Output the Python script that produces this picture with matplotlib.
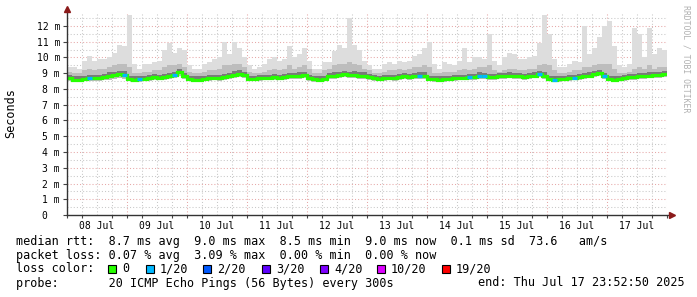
import matplotlib
matplotlib.use("Agg")
import matplotlib.pyplot as plt
from matplotlib.patches import Rectangle
import numpy as np

# ---- data (2-hour bins, 08 Jul 00:00 .. 18 Jul 00:00) ----
day_labels = ["08 Jul", "09 Jul", "10 Jul", "11 Jul", "12 Jul",
              "13 Jul", "14 Jul", "15 Jul", "16 Jul", "17 Jul"]

median_ms = [
    8.70, 8.60, 8.60, 8.62, 8.70, 8.72, 8.68, 8.78, 8.85, 8.88, 8.95, 8.92,
    8.62, 8.60, 8.62, 8.65, 8.70, 8.75, 8.72, 8.78, 8.82, 8.90, 9.05, 8.80,
    8.62, 8.60, 8.60, 8.63, 8.68, 8.72, 8.70, 8.75, 8.82, 8.92, 8.98, 8.88,
    8.62, 8.65, 8.68, 8.70, 8.72, 8.75, 8.72, 8.78, 8.80, 8.82, 8.85, 8.90,
    8.68, 8.62, 8.60, 8.65, 8.80, 8.85, 8.90, 8.95, 8.88, 8.92, 8.85, 8.85,
    8.78, 8.70, 8.65, 8.68, 8.72, 8.70, 8.75, 8.80, 8.78, 8.82, 8.85, 8.85,
    8.65, 8.62, 8.60, 8.62, 8.65, 8.68, 8.70, 8.72, 8.75, 8.78, 8.85, 8.80,
    8.75, 8.78, 8.80, 8.82, 8.85, 8.82, 8.80, 8.78, 8.82, 8.85, 8.95, 8.85,
    8.62, 8.60, 8.62, 8.65, 8.70, 8.72, 8.75, 8.80, 8.85, 8.95, 9.00, 8.80,
    8.62, 8.60, 8.65, 8.70, 8.75, 8.78, 8.80, 8.82, 8.85, 8.88, 8.90, 8.95,
]

max_ms = [
    9.4, 9.4, 9.3, 9.8, 10.1, 9.8, 9.9, 9.9, 10.0, 10.3, 10.8, 10.7,
    12.7, 9.6, 9.3, 9.6, 9.6, 9.7, 9.8, 10.5, 10.9, 10.3, 10.6, 10.5,
    9.5, 9.3, 9.3, 9.6, 9.7, 9.9, 10.0, 11.0, 10.2, 11.0, 10.6, 10.0,
    9.5, 9.3, 9.4, 9.6, 9.9, 10.0, 9.8, 9.9, 10.7, 10.0, 10.2, 10.6,
    9.8, 9.3, 9.3, 9.7, 9.7, 10.4, 10.8, 10.6, 12.5, 10.8, 10.5, 9.8,
    9.5, 9.3, 9.3, 9.6, 9.7, 9.6, 9.8, 9.7, 9.8, 10.1, 10.2, 10.6,
    11.0, 9.6, 9.3, 9.7, 9.6, 9.5, 9.8, 10.6, 9.7, 10.0, 10.0, 9.9,
    11.5, 9.8, 9.5, 10.0, 10.3, 10.2, 9.9, 9.9, 10.0, 10.1, 10.9, 12.7,
    11.5, 9.9, 9.4, 9.4, 9.6, 9.8, 9.7, 12.0, 10.2, 10.6, 11.3, 12.0,
    12.3, 10.7, 9.5, 9.4, 9.6, 11.9, 11.5, 10.0, 11.9, 10.2, 10.6, 10.5,
]

upper_ms = [
    9.1, 9.0, 9.0, 9.2, 9.3, 9.2, 9.3, 9.3, 9.4, 9.5, 9.6, 9.6,
    9.4, 9.0, 9.0, 9.1, 9.1, 9.2, 9.2, 9.4, 9.5, 9.5, 9.6, 9.4,
    9.1, 9.0, 9.0, 9.1, 9.2, 9.2, 9.3, 9.5, 9.5, 9.6, 9.6, 9.4,
    9.1, 9.0, 9.0, 9.1, 9.2, 9.3, 9.2, 9.3, 9.5, 9.3, 9.4, 9.5,
    9.3, 9.0, 9.0, 9.2, 9.3, 9.5, 9.6, 9.6, 9.7, 9.6, 9.5, 9.3,
    9.2, 9.0, 9.0, 9.1, 9.2, 9.2, 9.3, 9.2, 9.3, 9.4, 9.4, 9.5,
    9.4, 9.0, 9.0, 9.1, 9.1, 9.1, 9.2, 9.3, 9.2, 9.3, 9.4, 9.4,
    9.5, 9.2, 9.1, 9.2, 9.3, 9.3, 9.2, 9.2, 9.3, 9.3, 9.5, 9.6,
    9.5, 9.2, 9.0, 9.0, 9.1, 9.2, 9.2, 9.4, 9.4, 9.5, 9.6, 9.6,
    9.6, 9.3, 9.0, 9.0, 9.1, 9.3, 9.4, 9.3, 9.5, 9.3, 9.4, 9.4,
]

min_ms = [
    8.50, 8.45, 8.45, 8.48, 8.50, 8.52, 8.50, 8.55, 8.60, 8.62, 8.68, 8.65,
    8.48, 8.45, 8.47, 8.50, 8.52, 8.55, 8.55, 8.58, 8.62, 8.68, 8.80, 8.62,
    8.48, 8.45, 8.45, 8.48, 8.50, 8.55, 8.52, 8.55, 8.62, 8.70, 8.75, 8.68,
    8.48, 8.50, 8.52, 8.55, 8.55, 8.58, 8.55, 8.60, 8.62, 8.62, 8.65, 8.70,
    8.50, 8.47, 8.45, 8.50, 8.62, 8.65, 8.70, 8.75, 8.68, 8.72, 8.65, 8.65,
    8.60, 8.52, 8.50, 8.52, 8.55, 8.52, 8.58, 8.62, 8.60, 8.62, 8.65, 8.65,
    8.50, 8.47, 8.45, 8.47, 8.50, 8.52, 8.55, 8.55, 8.58, 8.60, 8.65, 8.62,
    8.58, 8.60, 8.62, 8.65, 8.68, 8.65, 8.62, 8.60, 8.65, 8.68, 8.75, 8.65,
    8.48, 8.45, 8.47, 8.50, 8.52, 8.55, 8.58, 8.62, 8.68, 8.75, 8.80, 8.62,
    8.48, 8.45, 8.50, 8.52, 8.58, 8.60, 8.62, 8.65, 8.68, 8.70, 8.72, 8.75,
]

loss_of_20 = [
    0, 0, 0, 0, 1, 0, 0, 0, 0, 0, 0, 1,
    0, 0, 1, 0, 0, 0, 0, 0, 0, 1, 0, 0,
    0, 0, 0, 0, 0, 0, 0, 0, 0, 0, 0, 0,
    0, 0, 0, 0, 0, 0, 0, 0, 0, 0, 0, 0,
    0, 0, 0, 0, 0, 0, 0, 0, 0, 0, 0, 0,
    0, 0, 0, 0, 0, 0, 0, 0, 0, 0, 1, 0,
    0, 0, 0, 0, 0, 0, 0, 0, 1, 0, 1, 1,
    0, 0, 0, 0, 0, 0, 0, 0, 0, 0, 1, 0,
    0, 1, 0, 0, 0, 1, 0, 0, 0, 0, 0, 1,
    0, 0, 0, 0, 0, 0, 0, 0, 0, 0, 0, 0,
]

legend_labels = ["0", "1/20", "2/20", "3/20", "4/20", "10/20", "19/20"]
legend_colors = ["#26ff00", "#00b8ff", "#0059ff", "#5e00ff", "#7e00ff", "#dd00ff", "#ff0000"]

# ---- figure ----
W, H = 697, 297
fig = plt.figure(figsize=(W / 100, H / 100), dpi=100)
fig.patch.set_facecolor("white")

x_left, x_right = 67, 667
y_bottom, y_top = 215, 13.4
YMAX = 12.8
ax = fig.add_axes([x_left / W, (H - y_bottom) / H, (x_right - x_left) / W, (y_bottom - y_top) / H])
ax.set_xlim(0, 240)
ax.set_ylim(0, YMAX)
ax.set_facecolor("white")
for s in ax.spines.values():
    s.set_visible(False)

# grid
minor_c = "#c8c8c8"
major_c = "#e6a8a8"
dot = (0, (1, 2))
for h in np.arange(6, 240.1, 6):
    c = major_c if h % 24 == 0 else minor_c
    ax.plot([h, h], [0, YMAX], color=c, lw=0.75, ls=dot, zorder=1)
for v in np.arange(0.5, YMAX, 0.5):
    c = major_c if abs(v - round(v)) < 1e-6 else minor_c
    ax.plot([0, 240], [v, v], color=c, lw=0.75, ls=dot, zorder=1)

# smoke
n = len(median_ms)
xs = np.arange(n) * 2.0
med = np.array(median_ms)
mx = np.array(max_ms)
up = np.array(upper_ms)
lo = np.array(min_ms)
ax.bar(xs, mx - lo, bottom=lo, width=2.0, align="edge", color="#dddddd", lw=0, zorder=2)
ax.bar(xs, up - lo, bottom=lo, width=2.0, align="edge", color="#bdbdbd", lw=0, zorder=3)
ax.bar(xs, (med + 0.2) - (med - 0.06), bottom=med - 0.06, width=2.0, align="edge",
       color="#7a7a7a", lw=0, zorder=4)

# median line coloured by loss
xe = np.append(xs, 240.0)
ax.step(xe, np.append(med, med[-1]), where="post", color=legend_colors[0], lw=2.3, zorder=5,
        solid_joinstyle="miter")
for i, l in enumerate(loss_of_20):
    if l > 0:
        ax.plot([xs[i], xs[i] + 2], [med[i], med[i]], color=legend_colors[1], lw=2.3,
                zorder=6, solid_capstyle="butt")

# ticks
ax.set_yticks(range(0, 13))
ax.set_yticklabels(["0  "] + [f"{i} m" for i in range(1, 13)])
ax.set_xticks([12 + 24 * d for d in range(10)])
ax.set_xticklabels(day_labels)
ax.set_xticks(np.arange(0, 241, 6), minor=True)
ax.tick_params(axis="y", which="major", length=3, width=0.8, color="#444444", pad=2,
               labelsize=7, labelcolor="#000000")
ax.tick_params(axis="x", which="major", length=0, pad=4, labelsize=7)
ax.tick_params(axis="x", which="minor", length=2, width=0.8, color="#444444")
for t in ax.get_xticklabels() + ax.get_yticklabels():
    t.set_fontfamily("DejaVu Sans Mono")

# axes lines and arrows
ax.plot([0, 0], [0, 13.05], color="#333333", lw=1.0, clip_on=False, zorder=7)
ax.plot([0, 241.8], [0, 0], color="#333333", lw=1.0, clip_on=False, zorder=7)
ax.plot([0], [13.1], marker="^", color="#8b1a1a", ms=4, clip_on=False, zorder=8)
ax.plot([242.0], [0], marker=">", color="#8b1a1a", ms=4, clip_on=False, zorder=8)

mono = "DejaVu Sans Mono"
# axis titles
fig.text(11 / W, 1 - 113 / H, "Seconds", rotation=90, ha="center", va="center",
         fontsize=8.5, family=mono)
fig.text(686 / W, 1 - 5 / H, "RRDTOOL / TOBI OETIKER", rotation=270, ha="center", va="top",
         fontsize=5.9, family=mono, color="#b0b0b0")

# legend text
fs = 8.5
def ftxt(x, y, s, **kw):
    fig.text(x / W, 1 - y / H, s, ha="left", va="center", fontsize=fs, family=mono, **kw)

ftxt(16, 241, "median rtt:  8.7 ms avg  9.0 ms max  8.5 ms min  9.0 ms now  0.1 ms sd  73.6   am/s")
ftxt(16, 255, "packet loss: 0.07 % avg  3.09 % max  0.00 % min  0.00 % now")
ftxt(16, 269, "loss color:")
sq_x = [108, 146, 203, 262, 320, 377, 442]
for xq, lab, col in zip(sq_x, legend_labels, legend_colors):
    fig.patches.append(Rectangle((xq / W, 1 - 273 / H), 8 / W, 8 / H, transform=fig.transFigure,
                                 facecolor=col, edgecolor="black", lw=0.8))
    ftxt(xq + 14, 269, lab)
ftxt(16, 283, "probe:       20 ICMP Echo Pings (56 Bytes) every 300s")
ftxt(478, 283, "end: Thu Jul 17 23:52:50 2025")

fig.savefig("out.png", dpi=100, facecolor="white")
